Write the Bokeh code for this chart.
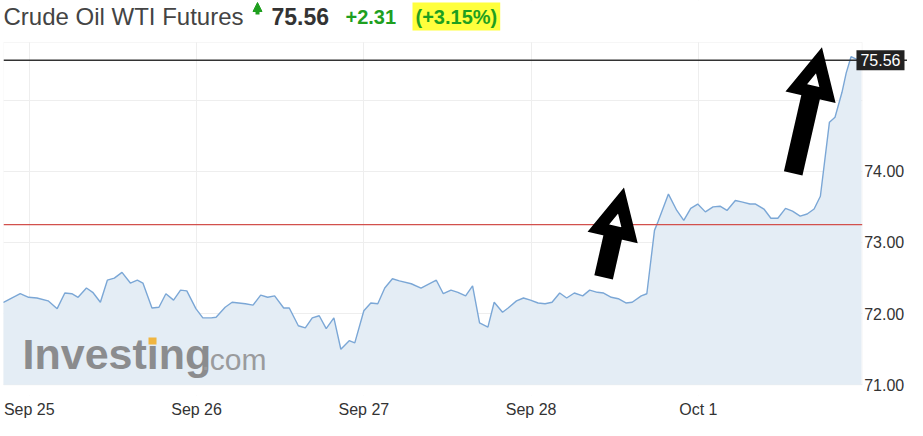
from bokeh.plotting import figure
from bokeh.models import (Range1d, FixedTicker, Span, Label, Arrow, NormalHead,
                          NumeralTickFormatter, BoxAnnotation)
from bokeh.embed import file_html
from bokeh.resources import INLINE

# ---- data (hours from the Sep 25 session mark, price) ----
hours = [-4.4, -3.7, -1.3, -0.1, 1.1, 2.7, 4.0, 5.1, 6.1, 7.0, 8.2, 9.1, 10.2, 11.2, 12.2,
         13.3, 14.5, 15.5, 16.3, 17.6, 18.6, 19.6, 20.7, 21.7, 22.6, 23.9, 24.9, 26.1, 26.8,
         28.1, 29.1, 31.0, 32.1, 33.2, 34.2, 35.2, 36.5, 37.3, 38.6, 39.6, 40.6, 41.6, 42.6,
         43.7, 44.7, 45.9, 46.7, 48.0, 49.0, 50.0, 51.0, 52.1, 53.1, 54.8, 56.2, 58.4, 59.4,
         60.5, 61.5, 62.6, 63.6, 64.6, 65.8, 66.7, 67.9, 68.7, 69.9, 70.9, 71.9, 73.0, 74.0,
         75.0, 76.1, 77.1, 78.2, 79.4, 80.4, 81.5, 82.4, 83.5, 84.5, 85.6, 86.5, 87.8, 88.6,
         89.7, 90.2, 91.7, 92.9, 93.9, 94.9, 95.9, 97.0, 98.1, 99.1, 100.1, 101.3, 102.2,
         103.4, 104.2, 105.4, 106.4, 107.4, 108.5, 109.5, 110.6, 111.6, 112.6, 113.5, 114.8,
         115.6, 116.6, 117.2, 117.9, 118.8, 119.4]
prices = [72.16, 72.16, 72.28, 72.23, 72.22, 72.18, 72.07, 72.29, 72.28, 72.23, 72.36, 72.30,
          72.16, 72.47, 72.50, 72.58, 72.43, 72.47, 72.43, 72.08, 72.09, 72.28, 72.19, 72.33,
          72.32, 72.07, 71.94, 71.94, 71.95, 72.09, 72.16, 72.14, 72.12, 72.26, 72.23, 72.25,
          72.08, 72.08, 71.83, 71.80, 71.94, 71.97, 71.79, 71.94, 71.50, 71.62, 71.59, 72.04,
          72.15, 72.14, 72.36, 72.49, 72.46, 72.42, 72.36, 72.47, 72.28, 72.33, 72.30, 72.25,
          72.39, 71.87, 71.81, 72.16, 72.02, 72.08, 72.18, 72.22, 72.19, 72.15, 72.14, 72.16,
          72.29, 72.22, 72.29, 72.25, 72.33, 72.30, 72.29, 72.23, 72.21, 72.15, 72.16, 72.25,
          72.28, 73.17, 73.29, 73.68, 73.45, 73.31, 73.48, 73.54, 73.43, 73.50, 73.51, 73.45,
          73.59, 73.57, 73.54, 73.54, 73.47, 73.34, 73.34, 73.48, 73.44, 73.37, 73.40, 73.47,
          73.65, 74.69, 74.76, 75.11, 75.38, 75.61, 75.57, 75.56]

day_ticks = [0, 24, 48, 72, 96]
day_labels = ["Sep 25", "Sep 26", "Sep 27", "Sep 28", "Oct 1"]
price_ticks = [71, 72, 73, 74]
grid_ticks = [71, 72, 73, 74, 75]
prev_close = 73.25
last_price = prices[-1]
change = 2.31
change_pct = 3.15
title_text = "Crude Oil WTI Futures"

# chart window (hours / price); extra room right for price labels, top for the title,
# a little below 71 so the lowest price label is not cut
x_start, x_data_end, x_end = -3.7, 119.5, 126.0
y_start, y_plot_bottom, y_plot_top, y_end = 70.85, 71.0, 75.81, 76.40

FONT = "Liberation Sans"
GREEN = "#1f9f1f"

p = figure(width=907, height=420, output_backend="svg", toolbar_location=None,
           x_range=Range1d(x_start, x_end), y_range=Range1d(y_start, y_end),
           y_axis_location="right",
           min_border_left=3, min_border_right=0, min_border_top=0, min_border_bottom=24)
p.background_fill_color = "white"
p.border_fill_color = "white"
p.outline_line_color = None

# axes
p.xaxis.ticker = FixedTicker(ticks=day_ticks)
p.xaxis.major_label_overrides = dict(zip(day_ticks, day_labels))
p.yaxis.ticker = FixedTicker(ticks=price_ticks)
p.yaxis.formatter = NumeralTickFormatter(format="0.00")
p.yaxis.fixed_location = x_data_end
for ax in (p.xaxis[0], p.yaxis[0]):
    ax.axis_line_color = None
    ax.major_tick_line_color = None
    ax.minor_tick_line_color = None
    ax.major_tick_out = 0
    ax.major_tick_in = 0
    ax.major_label_text_font = FONT
    ax.major_label_text_font_size = "16px"
    ax.major_label_text_color = "#333333"
p.xaxis.major_label_standoff = 5
p.yaxis.major_label_standoff = 2

p.xgrid.ticker = FixedTicker(ticks=day_ticks)
p.ygrid.ticker = FixedTicker(ticks=grid_ticks)
p.xgrid.grid_line_color = "#eeeeee"
p.ygrid.grid_line_color = "#eeeeee"

# keep grid lines inside the chart window
p.add_layout(BoxAnnotation(bottom=y_plot_top, fill_color="white", fill_alpha=1,
                           line_color=None, level="underlay"))
p.add_layout(BoxAnnotation(top=y_plot_bottom, fill_color="white", fill_alpha=1,
                           line_color=None, level="underlay"))
p.add_layout(BoxAnnotation(left=x_data_end, fill_color="white", fill_alpha=1,
                           line_color=None, level="underlay"))
p.add_layout(BoxAnnotation(right=x_data_end, top=y_plot_top, bottom=y_plot_bottom,
                           fill_alpha=0, line_color="#e2e2e2", line_width=1,
                           level="underlay"))

# area + line
p.varea(x=hours, y1=y_plot_bottom, y2=prices, fill_color="#e4edf5")
p.line(hours, prices, line_color="#7ba7d6", line_width=1.4)

# previous close (red) and last price (black)
p.segment(x0=[x_start], x1=[x_data_end], y0=[prev_close], y1=[prev_close],
          line_color="#d2504c", line_width=1.3)
p.add_layout(Span(location=last_price, dimension="width", line_color="#333333", line_width=1.5))

# last price box on the price scale
p.add_layout(Label(x=x_end, y=last_price, text=f"{last_price:.2f}", x_offset=-3,
                   text_font=FONT, text_font_size="16px", text_color="white",
                   text_baseline="middle", text_align="right",
                   background_fill_color="#222222", padding=4))

# hand-drawn arrows
for (xs, ys, xe, ye) in [(82.4, 72.51, 84.9, 73.59), (109.6, 73.97, 113.3, 75.56)]:
    p.add_layout(Arrow(x_start=xs, y_start=ys, x_end=xe, y_end=ye, line_width=19,
                       line_color="black",
                       end=NormalHead(size=32, fill_color="white", line_color="black",
                                      line_width=12, line_join="miter")))

# watermark
p.add_layout(Label(x=19, y=42, x_units="screen", y_units="screen", text="Investing",
                   text_font=FONT, text_font_style="bold", text_font_size="43px",
                   text_color="#8b8c8e", text_baseline="middle"))
p.add_layout(Label(x=198, y=36, x_units="screen", y_units="screen", text=".com",
                   text_font=FONT, text_font_size="30px", text_color="#9a9b9d",
                   text_baseline="middle"))
p.add_layout(BoxAnnotation(left=145, right=153, bottom=51, top=58,
                           left_units="screen", right_units="screen",
                           bottom_units="screen", top_units="screen",
                           fill_color="#f0b540", fill_alpha=1, line_color=None))

# title row
TY = 379
p.add_layout(Label(x=0, y=TY, x_units="screen", y_units="screen", text=title_text,
                   text_font=FONT, text_font_size="24px", text_color="#444444",
                   text_baseline="middle"))
p.add_layout(Arrow(x_start=254, y_start=TY + 2, x_end=254, y_end=TY + 14,
                   start_units="screen", end_units="screen", line_width=4,
                   line_color=GREEN,
                   end=NormalHead(size=9, fill_color=GREEN, line_color=GREEN, line_width=1)))
p.add_layout(Label(x=268, y=TY, x_units="screen", y_units="screen", text=f"{last_price:.2f}",
                   text_font=FONT, text_font_style="bold", text_font_size="23px",
                   text_color="#333333", text_baseline="middle"))
p.add_layout(Label(x=342, y=TY, x_units="screen", y_units="screen", text=f"+{change:.2f}",
                   text_font=FONT, text_font_style="bold", text_font_size="20px",
                   text_color=GREEN, text_baseline="middle"))
p.add_layout(Label(x=409, y=TY, x_units="screen", y_units="screen", text=f"(+{change_pct:.2f}%)",
                   text_font=FONT, text_font_style="bold", text_font_size="20px",
                   text_color=GREEN, text_baseline="middle",
                   background_fill_color="#ffff3c", padding=3))

open("out.html", "w").write(file_html(p, INLINE))
